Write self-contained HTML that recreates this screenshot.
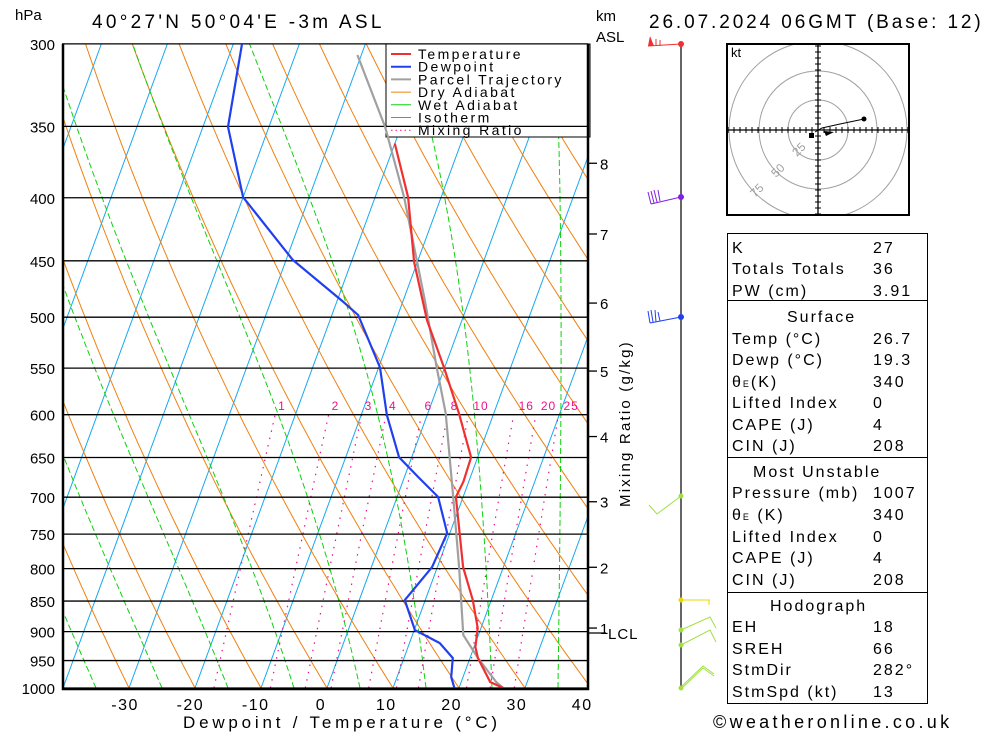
<!DOCTYPE html>
<html><head><meta charset="utf-8"><style>
body{margin:0;background:#fff}
svg{display:block;font-family:"Liberation Sans",sans-serif}
</style></head><body>
<svg id="chart" width="1000" height="733" viewBox="0 0 1000 733" xmlns="http://www.w3.org/2000/svg">
<defs><clipPath id="plotclip"><rect x="62" y="44" width="526" height="644"/></clipPath>
<clipPath id="hodoclip"><rect x="727" y="44" width="182" height="171"/></clipPath></defs>
<rect width="1000" height="733" fill="#fff"/>
<g id="bg" clip-path="url(#plotclip)"></g>
<g id="legend">
<rect x="386" y="44" width="204" height="93" fill="#fff" stroke="#000" stroke-width="1"/>
</g>
<g id="isobars"></g>
<g id="profiles" clip-path="url(#plotclip)"></g>
<g id="axes"></g>
</svg>
<script>
// ---- data ----
const tempPressures = [1000,988.9,945.5,926.2,894,848.5,797.8,699.6,680,649.7,598.3,549.3,502.8,450.9,399.6,361.4];
const tempValues = [26.7,24.4,21.2,20.2,19.5,17.2,13.9,8.9,9.2,9.0,4.7,-0.1,-5.3,-10.5,-15.0,-20.0];
const dewPressures = [1000,979.6,945.5,919.5,909.1,897.4,848.5,797.8,748.6,699.6,674.2,649.7,600.5,549.3,498.1,484.8,449.2,399.6,350.3,300];
const dewValues = [19.3,18.2,17.4,14.6,12.5,10.1,6.9,9.2,9.6,6.2,2.1,-1.9,-6.1,-9.8,-16.0,-19.3,-29.0,-40.0,-46.2,-48.7];
const parcelPressures = [1000,988.9,945.5,905.7,797.8,699.6,598.3,549.3,484.8,399.6,350.3,306.3];
const parcelValues = [26.7,25.3,21.2,17.7,13.3,8.5,2.7,-1.2,-6.7,-15.6,-22.4,-30.6];
const pressureTicks = [300,350,400,450,500,550,600,650,700,750,800,850,900,950,1000];
const tempTicks = [-30,-20,-10,0,10,20,30,40];
const mixingRatios = [1,2,3,4,6,8,10,16,20,25];
const kmLabels = ['8','7','6','5','4','3','2','1'];
const kmPressures = [375,428,487,553,625,706,798,894];

const NS='http://www.w3.org/2000/svg';
function mk(tag,parent){const e=document.createElementNS(NS,tag);document.getElementById(parent).appendChild(e);return e;}
function Y(p){return 688-535*Math.log(1000/p);}
function X(T,p){return 327+6.6*T+0.367*(688-Y(p));}
function pathFrom(ps,ts){return ps.map((p,i)=>(i?'L':'M')+X(ts[i],p).toFixed(1)+' '+Y(p).toFixed(1)).join('');}

for(let T=-160;T<=40;T+=10){
 const e=mk('path','bg');
 
 
 e.setAttribute('d','M'+X(T,1000)+' '+Y(1000)+'L'+X(T,300)+' '+Y(300));
 e.setAttribute('stroke','#18a8f0');e.setAttribute('fill','none');e.setAttribute('stroke-width','1');
}
for(let th=163.15;th<=483.15;th+=10){
 const ps=[],ts=[];
 for(let p=1000;p>=300;p-=10){ps.push(p);ts.push(th*Math.pow(p/1000,0.2857)-273.15);}
 const e=mk('path','bg');
 
 
 e.setAttribute('d',pathFrom(ps,ts));
 e.setAttribute('stroke','#f08010');e.setAttribute('fill','none');e.setAttribute('stroke-width','1');
}
function es(T){return 6.112*Math.exp(17.67*T/(T+243.5));}
for(let T0=-85;T0<=35;T0+=10){
 const ps=[],ts=[];let T=T0;
 for(let p=1000;p>=300;p-=5){
  ps.push(p);ts.push(T);
  const Tk=T+273.15;const rs=0.622*es(T)/(p-es(T));
  const b=(287*Tk+2.5e6*rs)/(1004+2.5e6*2.5e6*rs*0.622/(287*Tk*Tk));
  T-=b/p*5;
 }
 const e=mk('path','bg');
 
 
 e.setAttribute('d',pathFrom(ps,ts));
 e.setAttribute('stroke','#10d010');e.setAttribute('fill','none');e.setAttribute('stroke-width','1');e.setAttribute('stroke-dasharray','6,3');
}
function tdFromW(w,p){const e=w*p/(622+w);const l=Math.log(e/6.112);return 243.5*l/(17.67-l);}
mixingRatios.forEach(w=>{
 const ps=[],ts=[];
 for(let p=1000;p>=600;p-=10){ps.push(p);ts.push(tdFromW(w,p));}
 const e=mk('path','bg');
 
 
 e.setAttribute('d',pathFrom(ps,ts));
 e.setAttribute('stroke','#f0108a');e.setAttribute('fill','none');e.setAttribute('stroke-width','1.2');e.setAttribute('stroke-dasharray','1.5,6');
 const t=mk('text','bg');
 
 
 t.setAttribute('x',X(tdFromW(w,600),600)+(w>=10?5:3));t.setAttribute('y',410);
 t.setAttribute('text-anchor','start');t.setAttribute('font-size','12');t.setAttribute('letter-spacing','1');t.setAttribute('fill','#f0108a');
 t.textContent=w;
});

const legItems=[['Temperature','#f03030'],['Dewpoint','#2040f0'],['Parcel Trajectory','#a0a0a0'],['Dry Adiabat','#f08010'],['Wet Adiabat','#10d010'],['Isotherm','#18a8f0'],['Mixing Ratio','#f0108a']];
legItems.forEach((it,i)=>{
 const y=54+i*12.7;
 const l=mk('line','legend');
 
 
 l.setAttribute('x1',391);l.setAttribute('x2',411);l.setAttribute('y1',y);l.setAttribute('y2',y);
 l.setAttribute('stroke',it[1]);l.setAttribute('stroke-width',i<3?2:1);
 if(i==6)l.setAttribute('stroke-dasharray','1.5,3');
 const t=mk('text','legend');
 
 
 t.setAttribute('x',418);t.setAttribute('y',y+5);t.setAttribute('font-size','14');t.setAttribute('letter-spacing','2.4');
 t.textContent=it[0];
});

pressureTicks.forEach(p=>{
 const l=mk('line','isobars');
 
 
 l.setAttribute('x1',62);l.setAttribute('x2',588);l.setAttribute('y1',Y(p));l.setAttribute('y2',Y(p));
 l.setAttribute('stroke','#000');l.setAttribute('stroke-width','1.3');
 const t=mk('text','axes');
 
 
 t.setAttribute('x',55);t.setAttribute('y',Y(p)+6);t.setAttribute('text-anchor','end');t.setAttribute('font-size','15');
 t.textContent=p;
});

[[parcelPressures,parcelValues,'#a0a0a0','parcel-trajectory'],[dewPressures,dewValues,'#2040f0','dewpoint-line'],[tempPressures,tempValues,'#f03030','temperature-line']].forEach(s=>{
 const e=mk('path','profiles');
 
 
 e.setAttribute('d',pathFrom(s[0],s[1]));e.setAttribute('stroke',s[2]);e.setAttribute('fill','none');e.setAttribute('stroke-width','2.2');
});

const fr=mk('path','axes');


fr.setAttribute('d','M63 44V689H588V44');fr.setAttribute('stroke','#000');fr.setAttribute('fill','none');fr.setAttribute('stroke-width','2.5');
tempTicks.forEach(T=>{
 const t=mk('text','axes');
 
 
 t.setAttribute('x',321+6.53*T);t.setAttribute('y',710);t.setAttribute('text-anchor','middle');t.setAttribute('font-size','16');t.setAttribute('letter-spacing','1.5');
 t.textContent=T;
});
kmLabels.forEach((k,i)=>{
 const y=Y(kmPressures[i]);
 const l=mk('line','axes');
 
 
 l.setAttribute('x1',588);l.setAttribute('x2',597);l.setAttribute('y1',y);l.setAttribute('y2',y);l.setAttribute('stroke','#000');l.setAttribute('stroke-width','1.3');
 const t=mk('text','axes');
 
 
 t.setAttribute('x',600);t.setAttribute('y',y+6);t.setAttribute('font-size','15');
 t.textContent=k;
});
</script>
<svg style="position:absolute;left:0;top:0" width="1000" height="733">
<defs><clipPath id="hodoclip2"><rect x="727" y="44" width="182" height="171"/></clipPath></defs>
<g font-family="Liberation Sans, sans-serif">
<line x1="588" y1="633" x2="606" y2="633" stroke="#000" stroke-width="1.3"/>
<text x="608" y="639" font-size="15" letter-spacing="1">LCL</text>
<text x="15" y="20" font-size="15">hPa</text>
<text x="92" y="28" font-size="19" letter-spacing="3.3">40°27'N  50°04'E  -3m  ASL</text>
<text x="596" y="21" font-size="15">km</text>
<text x="596" y="42" font-size="15">ASL</text>
<text x="649" y="28" font-size="19" letter-spacing="2.9">26.07.2024 06GMT (Base: 12)</text>
<text x="183" y="728" font-size="17" letter-spacing="3.8">Dewpoint / Temperature (°C)</text>
<text transform="translate(630,507) rotate(-90)" font-size="15" letter-spacing="2.2">Mixing Ratio (g/kg)</text>
<text x="713" y="728" font-size="18" letter-spacing="3.3">©weatheronline.co.uk</text>
<g fill="none" stroke-width="1">
<line x1="681" y1="44" x2="681" y2="688" stroke="#000" stroke-width="1.2"/>
<path d="M681 44L648 46M656 46L656 39M660 46L660 40" stroke="#f03030"/>
<polygon points="648,46 650,36 654,46" fill="#f03030"/>
<circle cx="681" cy="44" r="3" fill="#f03030"/>
<path d="M681 197L651 204M648 192L651 204M651 191L654 203M654 190L657 202M658 190L660 201" stroke="#8020e0"/>
<circle cx="681" cy="197" r="3" fill="#8020e0"/>
<path d="M681 317L650 323M648 311L650 323M651 310L653 322M655 310L656 322M658 312L660 321" stroke="#2040f0"/>
<circle cx="681" cy="317" r="3" fill="#2040f0"/>
<path d="M681 496L657 514L649 505" stroke="#a0e040"/>
<circle cx="681" cy="496" r="2.5" fill="#a0e040"/>
<path d="M681 600L710 600M709 600L709 605" stroke="#e8d800"/>
<circle cx="681" cy="600" r="2.5" fill="#e8d800"/>
<path d="M681 630L710 617L716 628M681 645L710 630L716 642" stroke="#a0e040"/>
<circle cx="681" cy="630" r="2.5" fill="#a0e040"/><circle cx="681" cy="645" r="2.5" fill="#a0e040"/>
<path d="M681 687L703 666L714 674M681 689L703 668L714 676" stroke="#a0e040"/>
<circle cx="681" cy="688" r="2.5" fill="#a0e040"/>
</g>
<g>
<g clip-path="url(#hodoclip2)" fill="none" stroke="#a0a0a0" stroke-width="1">
<circle cx="818" cy="130" r="30"/><circle cx="818" cy="130" r="59"/><circle cx="818" cy="130" r="89"/>
</g>
<rect x="727" y="44" width="182" height="171" fill="none" stroke="#000" stroke-width="2"/>
<line x1="727" y1="130" x2="909" y2="130" stroke="#000" stroke-width="1.3"/>
<line x1="818" y1="44" x2="818" y2="215" stroke="#000" stroke-width="1.3"/>
<path id="hticks" stroke="#000" stroke-width="1" d=""/>
<text x="731" y="57" font-size="13">kt</text>
<text transform="translate(797,157) rotate(-45)" font-size="12" fill="#a0a0a0">25</text>
<text transform="translate(776,178) rotate(-45)" font-size="12" fill="#a0a0a0">50</text>
<text transform="translate(755,198) rotate(-45)" font-size="12" fill="#a0a0a0">75</text>
<path d="M815 132L822 128L840 124L864 119" stroke="#000" fill="none" stroke-width="1"/>
<circle cx="864" cy="119" r="2.5"/><rect x="809" y="133" width="5" height="5"/>
<polygon points="824,131 834,132 826,136"/>
</g>
<g font-size="16" letter-spacing="2">
<rect x="727.5" y="233.5" width="200" height="67" fill="none" stroke="#000"/>
<rect x="727.5" y="300.5" width="200" height="157" fill="none" stroke="#000"/>
<rect x="727.5" y="457.5" width="200" height="135" fill="none" stroke="#000"/>
<rect x="727.5" y="592.5" width="200" height="111" fill="none" stroke="#000"/>
<text x="732" y="253">K</text><text x="873" y="253">27</text>
<text x="732" y="274">Totals Totals</text><text x="873" y="274">36</text>
<text x="732" y="296">PW (cm)</text><text x="873" y="296">3.91</text>
<text x="787" y="322">Surface</text>
<text x="732" y="344">Temp (°C)</text><text x="873" y="344">26.7</text>
<text x="732" y="365">Dewp (°C)</text><text x="873" y="365">19.3</text>
<text x="732" y="387">θ<tspan font-size="9">E</tspan>(K)</text><text x="873" y="387">340</text>
<text x="732" y="408">Lifted Index</text><text x="873" y="408">0</text>
<text x="732" y="430">CAPE (J)</text><text x="873" y="430">4</text>
<text x="732" y="451">CIN (J)</text><text x="873" y="451">208</text>
<text x="753" y="477">Most Unstable</text>
<text x="732" y="498">Pressure (mb)</text><text x="873" y="498">1007</text>
<text x="732" y="520">θ<tspan font-size="9">E</tspan> (K)</text><text x="873" y="520">340</text>
<text x="732" y="542">Lifted Index</text><text x="873" y="542">0</text>
<text x="732" y="563">CAPE (J)</text><text x="873" y="563">4</text>
<text x="732" y="585">CIN (J)</text><text x="873" y="585">208</text>
<text x="770" y="611">Hodograph</text>
<text x="732" y="632">EH</text><text x="873" y="632">18</text>
<text x="732" y="654">SREH</text><text x="873" y="654">66</text>
<text x="732" y="675">StmDir</text><text x="873" y="675">282°</text>
<text x="732" y="697">StmSpd (kt)</text><text x="873" y="697">13</text>
</g>
</g>
</svg>
<script>
let d='';
for(let i=-15;i<=15;i++){if(!i)continue;const x=818+i*6;d+='M'+x+' 127V133';}
for(let i=-14;i<=14;i++){if(!i)continue;const y=130+i*6;d+='M815 '+y+'H821';}
document.getElementById('hticks').setAttribute('d',d);
</script>
</body></html>
